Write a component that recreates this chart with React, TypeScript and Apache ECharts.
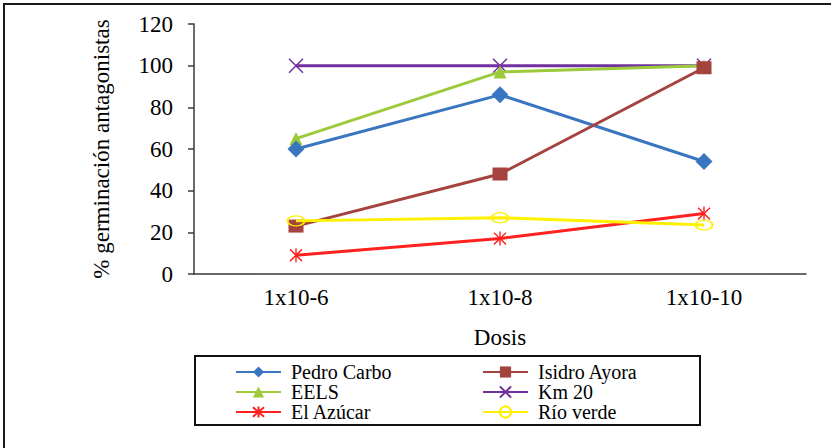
import React, { useEffect, useRef } from "react";
import * as echarts from "echarts";

// Dose levels on the category axis
const doses = ["1x10-6", "1x10-8", "1x10-10"];

// Germination (%) per isolate at each dose
const pedroCarbo = [60, 86, 54];
const isidroAyora = [23, 48, 99];
const eels = [65, 97, 100];
const km20 = [100, 100, 100];
const elAzucar = [9, 17, 29];
const rioVerde = [25.5, 27, 23.5];

const yTicks = { min: 0, max: 120, interval: 20 };

const FONT = '"Times New Roman", "Liberation Serif", "DejaVu Serif", serif';

const X_MARK = "path://M0,0L10,10M10,0L0,10";
const STAR_MARK = "path://M0,1L10,11M10,1L0,11M5,0L5,12";

export default function App() {
  const ref = useRef<HTMLDivElement>(null);

  useEffect(() => {
    if (!ref.current) return;
    const chart = echarts.init(ref.current, undefined, { renderer: "svg" });

    const line = (
      name: string,
      data: number[],
      color: string,
      symbol: string,
      symbolSize: number | number[],
      z: number,
      itemStyle?: any
    ) => ({
      name,
      type: "line",
      data,
      z,
      symbol,
      symbolSize,
      showSymbol: true,
      lineStyle: { color, width: 3 },
      itemStyle: itemStyle || { color },
    });

    const legendText = {
      fontFamily: FONT,
      fontSize: 20,
      color: "#000",
      padding: [0, 0, 0, 5],
    };

    const legendBase = {
      orient: "vertical",
      top: 362,
      padding: 0,
      itemGap: 0,
      itemWidth: 45,
      itemHeight: 14,
      textStyle: legendText,
    };

    const axisText = { fontFamily: FONT, fontSize: 23, color: "#000" };

    chart.setOption({
      animation: false,
      backgroundColor: "#ffffff",
      textStyle: { fontFamily: FONT },
      grid: { left: 194, right: 25, top: 24, bottom: 174, containLabel: false },
      xAxis: {
        type: "category",
        data: doses,
        boundaryGap: true,
        name: "Dosis",
        nameLocation: "middle",
        nameGap: 52,
        nameTextStyle: axisText,
        axisLine: { lineStyle: { color: "#3a3a3a", width: 1.5 } },
        axisTick: { show: false },
        axisLabel: { ...axisText, margin: 12 },
        splitLine: { show: false },
      },
      yAxis: {
        type: "value",
        min: yTicks.min,
        max: yTicks.max,
        interval: yTicks.interval,
        name: "% germinación antagonistas",
        nameLocation: "middle",
        nameGap: 81,
        nameTextStyle: axisText,
        axisLine: { show: true, lineStyle: { color: "#3a3a3a", width: 1.5 } },
        axisTick: { show: true, length: 6, lineStyle: { color: "#3a3a3a", width: 1.5 } },
        axisLabel: { ...axisText, margin: 21 },
        splitLine: { show: false },
      },
      legend: [
        { ...legendBase, left: 235, data: ["Pedro Carbo", "EELS", "El Azúcar"] },
        { ...legendBase, left: 482, data: ["Isidro Ayora", "Km 20", "Río verde"] },
      ],
      graphic: [
        {
          type: "rect",
          shape: { x: 4, y: 4, width: 900, height: 500 },
          style: { fill: "none", stroke: "#1a1a1a", lineWidth: 2 },
          silent: true,
        },
        {
          type: "rect",
          shape: { x: 195, y: 356, width: 505, height: 69 },
          style: { fill: "none", stroke: "#111", lineWidth: 2 },
          silent: true,
        },
      ],
      series: [
        line("Km 20", km20, "#7030A0", X_MARK, 14, 2, {
          color: "none",
          borderColor: "#7030A0",
          borderWidth: 1.5,
        }),
        line("EELS", eels, "#9BCB3B", "triangle", 13, 3),
        line("Pedro Carbo", pedroCarbo, "#3A76C0", "diamond", 17, 4),
        line("Isidro Ayora", isidroAyora, "#A5433F", "rect", [15, 13], 5),
        line("El Azúcar", elAzucar, "#FF2020", STAR_MARK, [12, 14], 6, {
          color: "none",
          borderColor: "#FF2020",
          borderWidth: 1.5,
        }),
        line("Río verde", rioVerde, "#FFF000", "circle", [17, 10], 7, {
          color: "none",
          borderColor: "#FFF000",
          borderWidth: 1.5,
        }),
      ],
    });

    return () => chart.dispose();
  }, []);

  return (
    <div
      ref={ref}
      style={{ position: "fixed", left: 0, top: 0, width: 831, height: 448 }}
    />
  );
}
